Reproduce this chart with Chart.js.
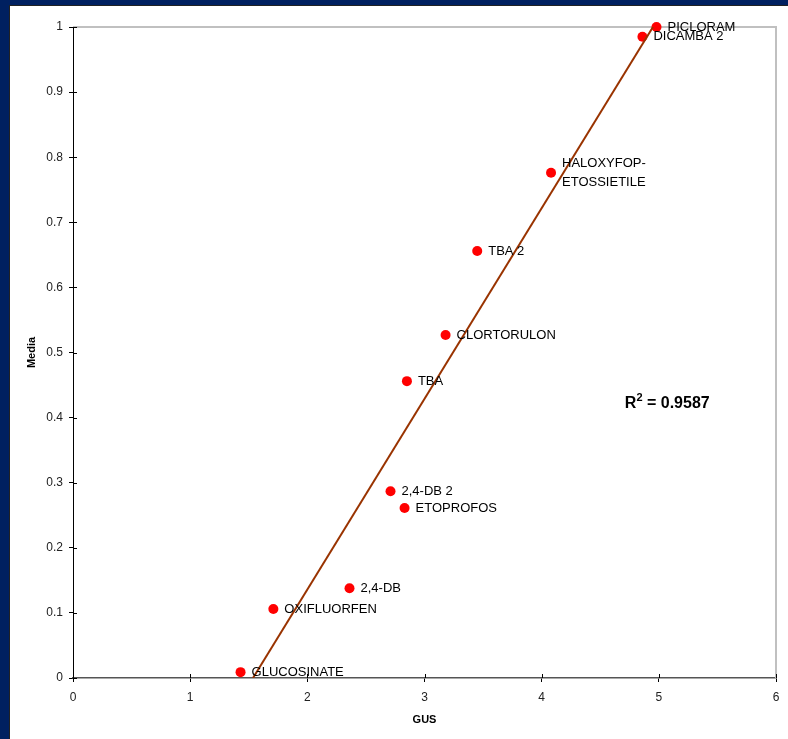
<!DOCTYPE html>
<html>
<head>
<meta charset="utf-8">
<script src="https://cdn.jsdelivr.net/npm/chart.js@4"></script>
<style>
  html, body { margin: 0; padding: 0; background: #002060; overflow: hidden; }
  #frame { position: absolute; left: 9px; top: 5px; width: 779px; height: 734px; background: #fff; border-left: 1px solid #222; border-top: 1px solid #222; }
  #gusChart { position: absolute; left: 0; top: 0; }
</style>
</head>
<body>
<div id="frame"></div>
<canvas id="gusChart" width="788" height="739" style="width:788px;height:739px"></canvas>
<script>
// herbicides: GUS index vs media
const names = [
  "PICLORAM", "DICAMBA 2", "HALOXYFOP-\nETOSSIETILE", "TBA 2", "CLORTORULON", "TBA",
  "2,4-DB 2", "ETOPROFOS", "2,4-DB", "OXIFLUORFEN", "GLUCOSINATE",
];
const gus = [4.98, 4.86, 4.08, 3.45, 3.18, 2.85, 2.71, 2.83, 2.36, 1.71, 1.43];
const media = [1.0, 0.985, 0.776, 0.656, 0.527, 0.456, 0.287, 0.261, 0.138, 0.106, 0.009];

// linear trend line ends
const trendGus = [1.536, 4.95];
const trendMedia = [0, 1];
const rSquared = "0.9587";
const r2Pos = { x: 4.71, y: 0.4147 };

const FONT = "'Liberation Sans', Arial, sans-serif";

const pointLabels = {
  id: "pointLabels",
  beforeDatasetsDraw(chart) {
    const { ctx, chartArea: a, scales } = chart;
    ctx.save();
    // light grey top / right frame
    ctx.strokeStyle = "#c0c0c0";
    ctx.lineWidth = 2;
    ctx.beginPath();
    ctx.moveTo(a.left, a.top);
    ctx.lineTo(a.right, a.top);
    ctx.lineTo(a.right, a.bottom);
    ctx.stroke();
    // inner half of the cross ticks
    ctx.strokeStyle = "#000";
    ctx.lineWidth = 1;
    ctx.beginPath();
    scales.x.ticks.forEach((t) => {
      const px = Math.round(scales.x.getPixelForValue(t.value)) + 0.5;
      ctx.moveTo(px, a.bottom - 4);
      ctx.lineTo(px, a.bottom);
    });
    scales.y.ticks.forEach((t) => {
      const py = Math.round(scales.y.getPixelForValue(t.value)) + 0.5;
      ctx.moveTo(a.left, py);
      ctx.lineTo(a.left + 4, py);
    });
    ctx.stroke();
    ctx.restore();
  },
  afterDatasetsDraw(chart) {
    const { ctx, scales } = chart;
    const meta = chart.getDatasetMeta(1);
    ctx.save();
    ctx.font = "13px " + FONT;
    ctx.fillStyle = "#000";
    ctx.textBaseline = "middle";
    meta.data.forEach((pt, i) => {
      const lines = names[i].split("\n");
      lines.forEach((line, j) => {
        ctx.fillText(line, pt.x + 11, pt.y + (j - (lines.length - 1) / 2) * 19);
      });
    });
    // R squared
    let x = scales.x.getPixelForValue(r2Pos.x);
    const y = scales.y.getPixelForValue(r2Pos.y);
    ctx.textBaseline = "alphabetic";
    ctx.font = "bold 16px " + FONT;
    ctx.fillText("R", x, y);
    x += ctx.measureText("R").width;
    ctx.font = "bold 11px " + FONT;
    ctx.fillText("2", x, y - 7);
    x += ctx.measureText("2").width;
    ctx.font = "bold 16px " + FONT;
    ctx.fillText(" = " + rSquared, x, y);
    ctx.restore();
  },
};

new Chart(document.getElementById("gusChart"), {
  type: "scatter",
  data: {
    datasets: [
      {
        type: "line",
        label: "Trend",
        data: trendGus.map((g, i) => ({ x: g, y: trendMedia[i] })),
        borderColor: "#993300",
        borderWidth: 2,
        pointRadius: 0,
        fill: false,
      },
      {
        label: "Media",
        data: gus.map((g, i) => ({ x: g, y: media[i] })),
        backgroundColor: "#ff0000",
        borderColor: "#ff0000",
        pointRadius: 5,
        borderWidth: 0,
        clip: false,
      },
    ],
  },
  options: {
    responsive: false,
    animation: false,
    layout: { padding: { left: 0, right: 12, top: 27, bottom: 0 } },
    plugins: {
      legend: { display: false },
      tooltip: { enabled: false },
    },
    scales: {
      x: {
        type: "linear",
        min: 0,
        max: 6,
        afterFit: (scale) => { scale.height = 61; },
        ticks: { stepSize: 1, color: "#222", padding: 8, font: { family: FONT, size: 12 } },
        grid: { drawOnChartArea: false, tickLength: 4, color: "#000" },
        border: { color: "#555", width: 1.5 },
        title: {
          display: true,
          text: "GUS",
          color: "#000",
          font: { family: FONT, size: 11, weight: "bold" },
          padding: { top: 0, bottom: 12 },
        },
      },
      y: {
        min: 0,
        max: 1,
        afterFit: (scale) => { scale.width = 73; },
        ticks: {
          stepSize: 0.1,
          color: "#222",
          padding: 6,
          font: { family: FONT, size: 12 },
          callback: (v) => String(Math.round(v * 10) / 10),
        },
        grid: { drawOnChartArea: false, tickLength: 4, color: "#000" },
        border: { color: "#000", width: 1 },
        title: {
          display: true,
          text: "Media",
          color: "#000",
          font: { family: FONT, size: 11, weight: "bold" },
          padding: { top: 25, bottom: 0 },
        },
      },
    },
  },
  plugins: [pointLabels],
});
</script>
</body>
</html>
